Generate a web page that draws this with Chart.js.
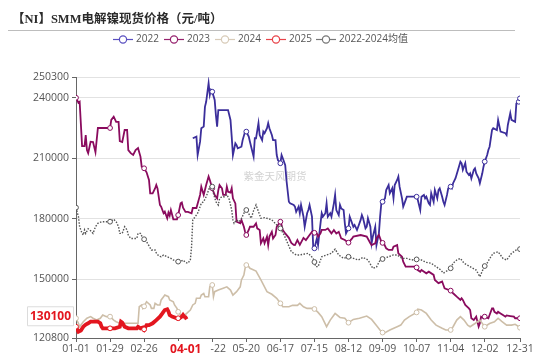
<!DOCTYPE html>
<html><head><meta charset="utf-8">
<script src="https://cdn.jsdelivr.net/npm/chart.js@4.4.1/dist/chart.umd.min.js"></script>
<style>html,body{margin:0;padding:0;background:#fff;}#wrap{position:relative;width:550px;height:357px;}</style>
</head><body><div id="wrap"><canvas id="c" width="550" height="357"></canvas></div>
<script>
// ---- axis / label data ----
const tickDays = [0,28,56,84,112,140,168,196,224,252,280,308,336,365];
const tickLabels = ['01-01','01-29','02-26','03-25','04-22','05-20','06-17','07-15','08-12','09-09','10-07','11-04','12-02','12-31'];
const yTicks = [120800,150000,180000,210000,240000,250300];
const seriesNames = ['2022','2023','2024','2025','2022-2024均值'];
const titleText = '【NI】SMM电解镍现货价格（元/吨）';
const watermark = '紫金天风期货';
const lastDay2025 = 91;
const lastDate2025 = '04-01';
const lastValue2025 = 130100;

// ---- 2022 (day of year, price) ----
const d2022 = [96,99,100,102,103,105,106,107,109,110,111,112,114,115,116,117,125,127,128,129,131,132,133,136,137,139,140,142,143,144,146,147,148,150,151,153,154,155,157,158,159,161,162,164,165,166,168,169,170,172,173,175,176,179,180,181,183,184,185,187,188,190,191,192,194,195,196,198,199,201,202,203,205,206,207,209,210,212,213,214,216,217,218,220,221,222,224,225,227,228,229,231,232,234,235,236,238,239,240,242,243,244,246,247,249,250,251,252,254,255,257,258,260,261,262,264,265,266,268,269,270,272,280,281,283,284,286,287,288,290,291,292,294,295,297,298,299,301,302,303,305,306,308,309,310,312,314,316,317,318,320,321,323,324,325,327,328,329,331,332,334,335,336,338,339,340,342,343,346,347,349,353,354,355,357,358,361,362,364,365];
const v2022 = [219900,220700,211600,218200,224900,225700,235500,238000,247200,241400,243900,243000,238900,231500,225700,233900,233900,229000,220700,211600,217400,216500,214900,215700,219000,223200,223200,220700,218200,215700,210800,219900,219900,227400,221500,219000,223200,222400,224900,227400,224900,221500,219000,219000,211600,209100,207500,211600,210000,206600,199200,188400,187600,186800,186000,183400,186000,182700,186800,181000,176000,182700,184300,186800,181000,166100,165300,170200,166900,177700,182700,181000,182700,187600,181000,182700,181000,187600,191800,184300,181800,186800,185100,184300,177700,172700,175200,181000,177700,176000,176900,174400,176000,179400,181800,180200,175200,176000,180200,176000,167800,171100,176000,166900,172700,181000,187600,188400,190100,194200,196700,192600,195100,190100,196700,199200,200900,195900,190100,186000,187600,190900,190900,189300,184300,190900,191800,190100,190900,187600,186800,192600,188400,194200,190100,194200,195100,190900,188400,186800,191800,195100,195900,195100,197600,200100,204200,208300,207500,204200,207500,203300,201700,202500,200000,204200,205000,202500,200000,197600,202500,205800,208300,211600,214100,215700,224000,224900,224000,229000,223200,222400,221500,226500,232300,229000,228100,237200,238000,239700];

// ---- 2023 ----
const d2023 = [0,2,3,5,7,8,9,10,12,14,16,18,28,29,31,33,35,36,38,40,42,43,45,47,49,51,53,54,56,58,60,61,63,65,66,67,69,70,72,73,75,76,77,78,80,83,84,86,87,88,90,92,95,96,99,102,103,105,106,107,109,110,112,113,114,116,117,118,120,121,123,124,125,127,128,129,131,132,135,136,138,139,140,142,143,146,148,149,151,152,154,155,157,158,159,161,162,164,165,168,169,170,172,175,177,179,180,182,184,187,189,192,194,196,198,199,201,202,205,207,210,212,214,216,217,218,221,224,227,228,234,239,242,243,246,247,249,251,252,253,255,257,260,261,264,265,268,269,271,279,280,281,283,284,288,290,294,295,298,301,302,303,308,310,313,316,317,318,320,323,324,325,327,329,331,332,333,335,336,339,340,342,343,344,346,347,349,351,353,354,357,360,361,365];
const v2023 = [240000,237500,238000,216000,216000,221500,214000,212500,218200,218000,213000,225000,225000,229000,230600,228000,228000,218500,218000,224000,224000,214000,212500,211600,214000,215000,210800,205800,205000,203000,199200,192600,192600,195000,196700,195000,186800,186000,182700,183500,180200,183000,181500,184300,179700,179700,181800,187600,188000,185500,183400,183400,182700,185300,185300,191800,195900,191800,194200,196700,200900,199200,195100,193400,191800,190100,194200,196700,195100,191800,191800,195900,193400,193000,195100,190100,187600,178500,177700,179400,176000,173500,171900,174400,176000,176000,177700,175200,174400,167800,170200,167800,171100,166900,171100,173500,170200,171900,176000,178500,176900,174400,172700,170500,168000,167000,166900,169400,167000,170500,169400,171900,173500,173000,172700,171100,172700,174400,174400,175200,172700,174400,172700,173500,171900,170200,169400,168100,170200,171100,171900,171100,167800,166900,167800,170200,171900,168600,168000,167800,165300,164500,164500,166100,166900,162800,161100,158700,156200,156200,155800,154500,153700,154500,152900,153700,152100,149600,148000,148800,147100,145500,144300,143000,141300,139700,140500,139700,137200,135500,134700,130600,129700,131400,126400,128100,131400,130600,131400,130600,132200,135500,135500,133800,133000,133800,133000,132200,131400,132000,131700,131400,130600,130600];

// ---- 2024 ----
const d2024 = [0,2,3,6,9,12,14,17,20,22,25,28,31,33,36,51,52,54,55,56,58,61,62,64,65,67,69,70,72,73,76,77,80,81,83,84,86,88,91,94,96,98,99,102,103,105,106,109,110,112,113,114,117,121,124,127,129,132,135,136,138,139,140,142,143,148,152,157,161,165,168,170,175,178,182,184,187,190,194,196,199,202,206,209,213,217,221,224,228,233,239,243,247,251,252,253,258,264,267,270,274,280,281,284,288,292,296,301,304,308,310,313,316,319,322,324,328,332,336,340,344,347,350,354,358,361,363,365];
const v2024 = [130600,128100,126400,128900,130600,131400,130600,129700,130600,132200,131400,131400,129700,128900,128100,128100,136300,137200,135500,136500,138800,137200,135500,135500,138000,137200,137200,139700,141300,142100,141300,139700,138800,137200,135500,133800,132200,131400,133000,134700,137200,138000,140500,140500,142100,142900,141300,141300,146200,147100,141300,143800,144600,145500,146200,144600,142100,143800,146200,149600,152000,155400,157000,156200,155400,154000,149600,143800,142500,140500,138000,136300,136300,137000,137000,138000,136300,135500,135500,135200,133500,131400,126400,129700,133000,131000,130600,128400,130000,130600,131700,130000,127000,123900,123500,123100,124800,126400,127200,129700,131400,133500,135100,134700,133000,129700,127200,125600,124800,124800,126400,129700,131400,129700,127200,126400,128000,129700,126400,128000,128800,130600,129000,127200,127200,127600,126800,125900];

// ---- 2025 ----
const d2025 = [0,1,2,4,6,8,10,12,15,18,20,21,22,28,32,36,37,38,40,43,50,51,53,55,56,58,60,63,66,69,71,73,75,76,77,79,83,84,85,87,88,89,90,91];
const v2025 = [126400,125100,123900,124500,126400,127500,128100,128900,128900,128900,128100,126400,125600,125600,125600,126400,128900,128500,126400,125600,125600,126400,125600,126000,125100,127200,127200,128100,129700,131400,133000,134700,135100,134000,132200,131400,130600,130600,130600,131400,132200,131400,131100,130100];

// ---- 2022-2024 average ----
const dAvg = [0,2,3,5,6,7,8,10,12,14,16,18,21,25,28,31,33,35,36,38,40,42,43,45,50,51,53,55,56,58,60,62,65,66,68,70,72,75,78,80,83,84,86,88,90,92,94,95,96,98,100,101,103,105,107,109,110,112,113,115,117,118,120,122,124,126,128,129,130,132,134,136,138,140,142,144,146,148,150,152,155,158,161,165,168,171,174,177,181,184,188,191,195,196,197,199,202,206,210,213,216,220,224,228,232,236,240,244,247,250,252,253,257,261,264,268,272,276,280,284,288,292,296,300,302,304,306,308,310,313,316,319,324,329,332,335,336,338,341,343,347,351,354,358,362,365];
const vAvg = [185500,181000,176000,172700,171900,174400,172700,175000,174000,172700,176000,177700,178500,178500,178500,179700,178500,176000,172700,172700,176000,174400,171900,170200,170200,172700,172700,170200,169800,168600,166500,164500,164500,163000,161500,161100,162000,161100,160300,159500,158700,158700,158700,159500,158300,157900,159500,166100,179400,181000,182700,184300,187600,188500,190900,194200,195900,195900,192600,188400,186800,190000,190900,190900,192000,189500,184300,179400,177700,179400,178500,180000,182700,184300,182500,180200,184000,186800,183500,180200,180500,180000,179400,176900,175200,172000,167800,163600,162000,162000,162500,162800,160300,158500,156200,156200,161100,162000,162800,164900,162000,160300,161100,160300,159500,160800,159500,155400,156000,159500,160000,160300,161100,162000,162000,160300,160300,159500,159800,159500,158300,157900,156200,154500,153000,153700,154500,155400,157900,159500,160300,157900,156200,154500,151200,155400,156500,158000,161100,162800,163600,160300,159500,162800,164500,164900];

const colors = ['#3b2e9b','#8a0b5e','#cdbea8','#e3161f','#555555'];
const legendColors = ['#5a50c0','#96236e','#d8cbb8','#e8444a','#777777'];

function pts(d, v){ return d.map((x,i)=>({x:x, y:v[i]})); }
function markerRadius(last){
  return ctx => { const x = ctx.raw.x; return (x % 28 === 0 || x === last) ? 2.4 : 0; };
}
const FONT = "'Open Sans','Noto Sans','Noto Sans CJK SC',sans-serif";

const deco = {
  id:'deco',
  beforeDatasetsDraw(chart){
    const c = chart.ctx; c.save();
    c.font = "10.5px 'Noto Sans CJK SC'"; c.fillStyle = '#d2d2d2';
    c.textAlign = 'center'; c.textBaseline = 'middle';
    c.fillText(watermark, 275, 176);
    c.restore();
  },
  afterDraw(chart){
    const c = chart.ctx; c.save();
    // title
    c.font = "bold 12.5px 'Liberation Serif','Noto Sans CJK SC',serif";
    c.fillStyle = '#2b2b2b'; c.textBaseline = 'middle'; c.textAlign = 'left';
    c.fillText(titleText, 12, 20);
    // separator line
    c.strokeStyle = '#bdbdbd'; c.lineWidth = 1;
    c.beginPath(); c.moveTo(8, 30.5); c.lineTo(515, 30.5); c.stroke();
    // legend
    const xs = [113,164,215,266,316];
    c.font = "10px " + FONT; c.textBaseline = 'middle';
    seriesNames.forEach((n,i)=>{
      const x = xs[i], y = 39.5;
      c.strokeStyle = legendColors[i]; c.lineWidth = 1.2;
      c.beginPath(); c.moveTo(x, y); c.lineTo(x+20, y); c.stroke();
      c.beginPath(); c.arc(x+10, y, 3.6, 0, Math.PI*2); c.fillStyle = '#fff'; c.fill(); c.stroke();
      c.fillStyle = '#555'; c.fillText(n, x+23, y);
    });
    // y-axis value label of the latest 2025 price
    const yy = chart.scales.y.getPixelForValue(lastValue2025);
    const ly = yy - 3;
    c.fillStyle = '#fff'; c.strokeStyle = '#dcdcdc'; c.lineWidth = 1;
    c.beginPath(); c.rect(27.5, ly-9.5, 46, 19); c.fill(); c.stroke();
    c.font = "bold 12px " + FONT; c.fillStyle = '#e3161f'; c.textAlign = 'center';
    c.fillText(String(lastValue2025), 50.5, ly+0.5);
    // x-axis date label of the latest 2025 price
    const xx = chart.scales.x.getPixelForValue(lastDay2025);
    c.fillStyle = '#fff';
    c.fillRect(xx-25, 341, 49, 16);
    c.fillStyle = '#e3161f'; c.font = "bold 12px " + FONT;
    c.fillText(lastDate2025, xx-1, 349.5);
    c.restore();
  }
};

new Chart(document.getElementById('c'), {
  type:'line',
  data:{ datasets:[
    {label:seriesNames[0], data:pts(d2022,v2022), borderColor:colors[0], borderWidth:1.8, order:4, pointRadius:markerRadius(365)},
    {label:seriesNames[1], data:pts(d2023,v2023), borderColor:colors[1], borderWidth:1.8, order:3, pointRadius:markerRadius(365)},
    {label:seriesNames[2], data:pts(d2024,v2024), borderColor:colors[2], borderWidth:1.6, order:2, pointRadius:markerRadius(365)},
    {label:seriesNames[3], data:pts(d2025,v2025), borderColor:colors[3], borderWidth:3.8, order:1, pointRadius:markerRadius(-1)},
    {label:seriesNames[4], data:pts(dAvg,vAvg), borderColor:colors[4], borderWidth:1.4, borderDash:[1.5,1.5], order:0, pointRadius:markerRadius(365)}
  ].map(ds=>Object.assign(ds,{fill:false, tension:0, pointBackgroundColor:'#fff', pointBorderColor:ds.borderColor, pointBorderWidth:1, pointHoverRadius:0}))},
  options:{
    responsive:false, animation:false, devicePixelRatio:1,
    layout:{padding:{top:77, right:30, left:0, bottom:0}},
    plugins:{legend:{display:false}, title:{display:false}, tooltip:{enabled:false}},
    scales:{
      x:{type:'linear', min:0, max:365,
        afterBuildTicks: s => { s.ticks = tickDays.map(v=>({value:v})); },
        afterFit: s => { s.height = 19; },
        ticks:{autoSkip:false, maxRotation:0, padding:1, color:'#555', font:{size:10.5, family:FONT},
          callback: v => { const i = tickDays.indexOf(v); return i>=0 ? tickLabels[i] : ''; }},
        grid:{drawOnChartArea:false, drawTicks:true, tickLength:4, tickColor:'#666'},
        border:{color:'#666', width:1}
      },
      y:{type:'linear', min:120800, max:250300,
        afterBuildTicks: s => { s.ticks = yTicks.map(v=>({value:v})); },
        afterFit: s => { s.width = 76; },
        ticks:{autoSkip:false, padding:3, color:'#555', font:{size:10.5, family:FONT}, callback: v => String(v)},
        grid:{color:'#e2e2e2', lineWidth:1, drawTicks:true, tickLength:4, tickColor:'#666'},
        border:{color:'#666', width:1}
      }
    }
  },
  plugins:[deco]
});
</script></body></html>
